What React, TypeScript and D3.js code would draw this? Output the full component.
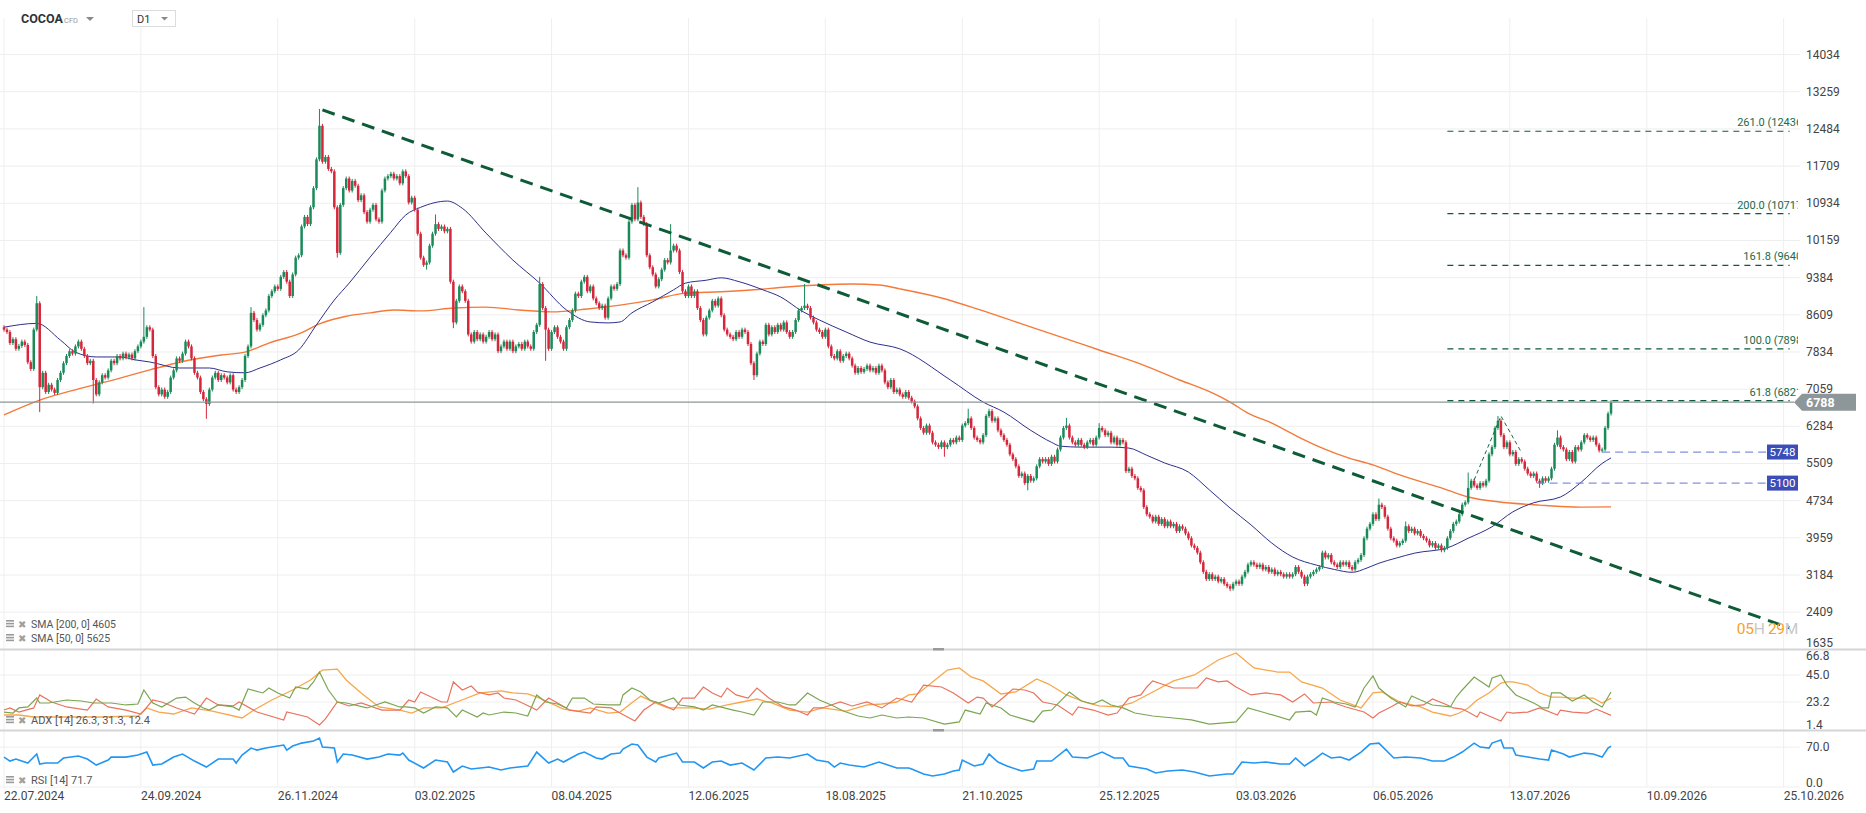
import * as d3 from "d3";
import React from "react";

// ---------- data ----------
const dateLabels = [
  "22.07.2024", "24.09.2024", "26.11.2024", "03.02.2025", "08.04.2025", "12.06.2025", "18.08.2025",
  "21.10.2025", "25.12.2025", "03.03.2026", "06.05.2026", "13.07.2026", "10.09.2026", "25.10.2026",
];
const barsPerDateTick = 46;

const priceTicks = [1635, 2409, 3184, 3959, 4734, 5509, 6284, 7059, 7834, 8609, 9384, 10159, 10934, 11709, 12484, 13259, 14034];
const adxTicks = [66.8, 45.0, 23.2, 1.4];
const rsiTicks = [70.0, 0.0];

const firstOpen = 8350;
// daily closes, one per bar
const closes = [
  8300, 8250, 8020, 8100, 7900, 7960, 8050, 7980, 7620, 7480,
  8300, 8850, 7100, 7400, 7000, 7150, 7050, 6980, 7250, 7400,
  7600, 7750, 7850, 7800, 7950, 8050, 7900, 7750, 7600, 7650,
  7250, 6950, 7200, 7350, 7300, 7450, 7650, 7600, 7750, 7700,
  7800, 7720, 7780, 7700, 7850, 7950, 8050, 8150, 8350, 8300,
  7750, 7100, 6950, 7050, 6900, 7000, 7300, 7450, 7700, 7650,
  7800, 8050, 7950, 7700, 7400, 7300, 7000, 6850, 6750, 7050,
  7300, 7400, 7250, 7350, 7300, 7200, 7350, 7050, 7000, 7100,
  7250, 7750, 7950, 8650, 8500, 8300, 8400, 8600, 8700, 9000,
  9100, 9200, 9150, 9400, 9500, 9300, 9000, 9450, 9800, 9850,
  10450, 10650, 10500, 10850, 11250, 11850, 12550, 11800, 11900, 11650,
  11600, 10850, 9900, 10900, 11250, 11450, 11200, 11400, 11300, 11000,
  11100, 10750, 10550, 10800, 10900, 10600, 10550, 11200, 11450, 11500,
  11550, 11450, 11500, 11350, 11600, 11500, 10950, 11050, 10800, 10300,
  9800, 9650, 9700, 10050, 10300, 10500, 10400, 10450, 10350, 10400,
  9300, 8450, 8900, 9200, 9100, 8900, 8200, 8050, 8250, 8100,
  8200, 8050, 8150, 8250, 8100, 8200, 7850, 7950, 8050, 7900,
  8050, 7850, 7950, 8000, 7900, 8050, 7950, 7900, 8250, 8400,
  9250, 8750, 8300, 7900, 8250, 8350, 8150, 8050, 7900, 8350,
  8500, 8700, 9050, 9000, 9300, 9400, 9100, 9200, 8950, 8850,
  8750, 8800, 8550, 8950, 9200, 9150, 9250, 9950, 9850, 9800,
  10550, 10900, 10600, 10950, 10650, 10500, 9850, 9600, 9450, 9200,
  9350, 9550, 9750, 9700, 9950, 10050, 9950, 9500, 9100, 9000,
  9200, 9000, 9100, 8750, 8500, 8200, 8550, 8700, 8900, 8800,
  8950, 8600, 8300, 8200, 8150, 8100, 8250, 8150, 8300, 8250,
  8000, 7600, 7350, 7800, 8050, 8000, 8400, 8200, 8350, 8250,
  8400, 8300, 8450, 8250, 8150, 8250, 8500, 8700, 8750, 8800,
  8750, 8550, 8450, 8300, 8250, 8150, 8300, 7950, 7750, 7700,
  7850, 7650, 7750, 7800, 7700, 7550, 7400, 7500, 7420, 7480,
  7550, 7450, 7500, 7400, 7550, 7450, 7200, 7100, 7250, 7000,
  7050, 6950, 6900, 7000, 6880, 6800, 6700, 6450, 6250, 6150,
  6300, 6150, 5950, 5900, 5850, 5950, 5850, 5900, 6000, 5950,
  6050, 6000, 6300, 6350, 6450, 6250, 6050, 6000, 5950, 6100,
  6500, 6600, 6400, 6450, 6200, 6100, 6000, 5900, 5700, 5600,
  5450, 5250, 5300, 5100, 5250, 5150, 5200, 5450, 5600, 5550,
  5600, 5500, 5650, 5550, 5800, 6050, 6250, 6300, 6050, 5950,
  5900, 6000, 5900, 5850, 5950, 6000, 5900, 6050, 6250, 6200,
  6100, 6150, 5950, 6050, 5900, 6000, 5950, 5350, 5400, 5250,
  5200, 5000, 4950, 4600, 4450, 4400, 4300, 4400, 4250, 4350,
  4200, 4300, 4200, 4250, 4100, 4200, 4150, 4050, 3950, 3800,
  3750, 3650, 3450, 3250, 3100, 3200, 3100, 3150, 3050, 3100,
  3000, 2950, 2900, 3000, 3050, 3000, 3150, 3250, 3400, 3450,
  3400, 3350, 3400, 3300, 3350, 3250, 3300, 3200, 3250, 3200,
  3150, 3200, 3150, 3200, 3350, 3250, 3150, 3000, 3150, 3200,
  3250, 3300, 3350, 3650, 3550, 3600, 3450, 3400, 3350, 3450,
  3400, 3450, 3350, 3300, 3450, 3500, 3600, 3950, 4150, 4250,
  4450, 4350, 4650, 4600, 4400, 4150, 3950, 3900, 3800, 3850,
  3900, 4200, 4100, 4150, 4050, 4100, 4000, 3950, 3900, 3800,
  3850, 3750, 3800, 3700, 3750, 3950, 4100, 4250, 4300, 4450,
  4650, 4700, 5000, 5150, 5050, 5000, 5100, 5050, 5150, 5700,
  5850, 6250, 6400, 6100, 5850, 5950, 5700, 5750, 5500, 5600,
  5550, 5400, 5300, 5250, 5300, 5150, 5100, 5200, 5150, 5200,
  5400, 5900, 6050, 5850, 5800, 5600, 5750, 5550, 5850, 5800,
  5950, 6100, 6050, 6000, 6050, 5900, 5780, 5800, 6250, 6550, 6788,
];

// long wicks visible on the chart: [bar, price]
const wickHighs: [number, number][] = [
  [11, 9000], [47, 8770], [83, 8770], [106, 12900], [145, 10700], [180, 9400], [213, 11270],
  [224, 10500], [269, 9250], [324, 6650], [331, 6650], [357, 6460], [368, 6350], [462, 4780],
  [471, 4300], [492, 5320], [502, 6500], [522, 6200],
];
const wickLows: [number, number][] = [
  [12, 6580], [30, 6760], [68, 6440], [112, 9800], [142, 9550], [151, 8330], [182, 7650],
  [252, 7250], [316, 5650], [344, 4950], [412, 2850], [437, 2950], [516, 5000],
];

// moving averages: [bar, value]
const sma50: [number, number][] = [
  [0, 8350], [11, 8430], [19, 8080], [24, 7830], [31, 7730], [39, 7730], [44, 7670], [49, 7625],
  [59, 7500], [69, 7500], [75, 7420], [81, 7400], [86, 7500], [93, 7670], [99, 7875], [105, 8400],
  [111, 8917], [116, 9270], [123, 9810], [130, 10330], [135, 10690], [140, 10850], [149, 10980],
  [154, 10830], [162, 10310], [171, 9750], [180, 9270], [189, 8710], [197, 8460], [203, 8440],
  [207, 8460], [211, 8650], [218, 8880], [225, 9130], [229, 9270], [236, 9330], [241, 9380],
  [247, 9300], [255, 9130], [261, 8980], [268, 8690], [274, 8500], [283, 8250], [291, 8040],
  [301, 7900], [318, 7250], [329, 6790], [336, 6580], [345, 6200], [352, 5950], [355, 5870],
  [362, 5850], [372, 5850], [378, 5830], [384, 5680], [390, 5520], [398, 5330], [405, 4960],
  [412, 4580], [419, 4230], [426, 3850], [433, 3560], [441, 3390], [447, 3300], [453, 3240],
  [458, 3330], [462, 3430], [468, 3540], [474, 3640], [485, 3750], [492, 3950], [500, 4190],
  [507, 4500], [514, 4690], [523, 4810], [530, 5120], [537, 5510], [540, 5625],
];
const sma200: [number, number][] = [
  [0, 6520], [12, 6830], [26, 7080], [39, 7290], [49, 7460], [59, 7620], [73, 7770], [81, 7830],
  [89, 8020], [99, 8210], [106, 8420], [115, 8580], [123, 8650], [131, 8710], [140, 8690],
  [151, 8750], [162, 8770], [173, 8710], [184, 8670], [196, 8730], [207, 8810], [218, 8920],
  [229, 9060], [241, 9090], [252, 9130], [263, 9190], [274, 9230], [285, 9250], [294, 9230],
  [301, 9150], [315, 8960], [328, 8710], [341, 8440], [355, 8150], [368, 7875], [382, 7580],
  [395, 7250], [406, 6980], [412, 6790], [418, 6560], [426, 6350], [435, 6060], [443, 5830],
  [452, 5620], [460, 5480], [469, 5270], [483, 5000], [492, 4810], [502, 4710], [516, 4640],
  [530, 4600], [540, 4605],
];

// ADX(14): adx, +DI, -DI  [bar, value]
const adxMain: [number, number][] = [
  [0, 12.7], [5, 12.7], [10, 11.1], [21, 11.1], [32, 11.1], [45, 11.9], [48, 18.4], [52, 15.1],
  [57, 13.5], [63, 18.4], [70, 15.9], [80, 10.3], [84, 16.7], [90, 24.8], [97, 32.9], [103, 41],
  [107, 49], [112, 49.8], [115, 41], [120, 30.5], [126, 19.2], [133, 16.7], [137, 14.3], [141, 18.4],
  [147, 18.4], [153, 24], [160, 30.5], [167, 32.1], [171, 30.5], [176, 29.7], [180, 26.4], [188, 17.5],
  [193, 15.9], [197, 18.4], [203, 14.3], [207, 15.1], [210, 20.8], [214, 28], [218, 23.2], [223, 18.4],
  [231, 18.4], [237, 17.5], [243, 20.8], [248, 23.2], [253, 25.6], [258, 22.4], [264, 16.7], [270, 15.1],
  [275, 18.4], [283, 15.9], [290, 20.8], [295, 21.6], [300, 23.2], [304, 28.9], [307, 29.7], [312, 39.4],
  [317, 49], [321, 50.7], [325, 43.4], [329, 40.2], [335, 29.7], [340, 31.3], [347, 41.8], [351, 37.7],
  [357, 28.9], [364, 22.4], [368, 20], [374, 19.2], [379, 22.4], [386, 31.3], [393, 40.2], [400, 45],
  [408, 57.1], [414, 62.8], [420, 50.7], [428, 47.4], [432, 47.4], [436, 39.4], [443, 34.5], [449, 24.8],
  [456, 18.4], [460, 30.5], [463, 31.3], [469, 23.2], [476, 19.2], [480, 15.1], [486, 11.9], [489, 14.3],
  [492, 18.4], [495, 24.8], [499, 30.5], [503, 38.5], [505, 39.4], [507, 39.4], [512, 36.9], [516, 30.5],
  [520, 27.2], [523, 27.2], [527, 26.4], [534, 26.4], [537, 22.4], [540, 26.3],
];
const adxPlus: [number, number][] = [
  [0, 15.1], [3, 14.3], [5, 18.4], [8, 19.2], [11, 26.4], [12, 22.4], [15, 22.4], [21, 24.8], [26, 24],
  [30, 22.4], [36, 22.4], [41, 20.8], [45, 21.6], [47, 32.9], [50, 22.4], [53, 19.2], [58, 26.4],
  [61, 27.2], [64, 22.4], [67, 18.4], [69, 16.7], [72, 20.8], [77, 19.2], [79, 16.7], [82, 33.7],
  [87, 30.5], [89, 34.5], [92, 30.5], [96, 26.4], [98, 35.3], [102, 33.7], [104, 39.4], [106, 47.4],
  [109, 32.9], [112, 23.2], [115, 22.4], [122, 18.4], [128, 23.2], [133, 19.2], [135, 19.2], [138, 18.4],
  [141, 14.3], [145, 19.2], [149, 18.4], [152, 11.1], [154, 16.7], [159, 11.1], [161, 14.3], [163, 12.7],
  [168, 15.1], [172, 14.3], [176, 11.9], [179, 28.9], [182, 23.2], [186, 21.6], [189, 18.4], [191, 26.4],
  [195, 26.4], [198, 21.6], [203, 20.8], [207, 20.8], [208, 28.9], [211, 34.5], [214, 31.3], [217, 24.8],
  [220, 22.4], [225, 26.4], [227, 20.8], [232, 19.2], [235, 16.7], [238, 20.8], [242, 18.4], [245, 16.7],
  [248, 15.1], [252, 12.7], [255, 23.2], [260, 23.2], [264, 20.8], [266, 20.8], [270, 30.5], [274, 24.8],
  [278, 20.8], [282, 15.9], [287, 11.9], [291, 10.3], [295, 12.7], [300, 10.3], [304, 11.1], [309, 10.3],
  [316, 5.4], [321, 7.1], [323, 16.7], [328, 13.5], [330, 22.4], [335, 18.4], [338, 12.7], [346, 7.1],
  [349, 15.9], [352, 16.7], [358, 31.3], [362, 24], [366, 21.6], [369, 24.8], [372, 20.8], [376, 18.4],
  [380, 14.3], [386, 11.9], [393, 10.3], [399, 8.7], [405, 5.4], [414, 7.1], [418, 18.4], [424, 14.3],
  [432, 8.7], [434, 15.1], [439, 15.9], [441, 12.7], [443, 26.4], [447, 23.2], [451, 21.6], [454, 19.2],
  [457, 34.5], [460, 44.2], [462, 34.5], [466, 26.4], [471, 19.2], [473, 28], [476, 24.8], [480, 20.8],
  [486, 19.2], [488, 27.2], [490, 32.9], [494, 43.4], [497, 38.5], [499, 35.3], [500, 42.6], [503, 45],
  [505, 36.9], [508, 28.9], [514, 22.4], [517, 18.4], [519, 18.4], [520, 30.5], [523, 30.5], [527, 24],
  [531, 28.9], [534, 23.2], [537, 19.2], [539, 27.2], [540, 31.3],
];
const adxMinus: [number, number][] = [
  [0, 16.7], [2, 18.4], [5, 15.1], [10, 18.4], [12, 28.9], [16, 23.2], [21, 19.2], [28, 16.7], [31, 25.6],
  [35, 19.2], [41, 16.7], [46, 13.5], [50, 24.8], [53, 23.2], [58, 18.4], [64, 13.5], [68, 26.4],
  [72, 20.8], [77, 20], [79, 23.2], [85, 15.1], [94, 8.7], [95, 15.1], [102, 11.1], [106, 4.6], [108, 9.5],
  [112, 23.2], [116, 20], [120, 22.4], [127, 16.7], [133, 16.7], [136, 24.8], [138, 23.2], [140, 31.3],
  [147, 23.2], [149, 23.2], [151, 39.4], [154, 32.9], [157, 36.1], [159, 31.3], [163, 28.9], [166, 30.5],
  [168, 26.4], [172, 24.8], [177, 19.2], [179, 16.7], [183, 26.4], [186, 22.4], [190, 16.7], [197, 14.3],
  [199, 19.2], [204, 18.4], [207, 14.3], [212, 7.9], [215, 16.7], [219, 23.2], [223, 19.2], [225, 16.7],
  [228, 26.4], [232, 26.4], [235, 35.3], [238, 30.5], [241, 27.2], [243, 34.5], [246, 28.9], [250, 26.4],
  [253, 34.5], [257, 26.4], [262, 19.2], [266, 16.7], [270, 12.7], [272, 18.4], [275, 18.4], [281, 23.2],
  [285, 20], [290, 23.2], [295, 18.4], [300, 26.4], [305, 23.2], [309, 36.9], [315, 35.3], [319, 30.5],
  [324, 22.4], [327, 27.2], [329, 26.4], [332, 19.2], [336, 27.2], [339, 33.7], [343, 32.9], [346, 30.5],
  [349, 23.2], [354, 20.8], [359, 12.7], [361, 19.2], [366, 16.7], [371, 12.7], [374, 14.3], [378, 26.4],
  [382, 28.9], [384, 35.3], [386, 40.2], [390, 36.9], [393, 34.5], [398, 34.5], [401, 34.5], [404, 42.6],
  [408, 39.4], [411, 40.2], [414, 35.3], [419, 28.9], [424, 30.5], [429, 28.9], [433, 23.2], [437, 29.7],
  [440, 22.4], [446, 23.2], [451, 19.2], [457, 15.1], [460, 10.3], [462, 14.3], [466, 19.2], [469, 23.2],
  [473, 20], [477, 20.8], [480, 25.6], [485, 20.8], [487, 18.4], [490, 17.5], [492, 15.1], [495, 11.1],
  [496, 15.1], [499, 11.9], [503, 7.9], [505, 15.1], [507, 14.3], [512, 15.1], [516, 18.4], [522, 12.7],
  [523, 16.7], [527, 15.1], [532, 14.3], [535, 17.5], [540, 12.4],
];

// RSI(14) [bar, value]
const rsi: [number, number][] = [
  [0, 52.5], [2, 45.5], [4, 49], [8, 42], [11, 57.8], [12, 40.3], [14, 42], [18, 42], [20, 50.8],
  [25, 54.3], [28, 49], [31, 38.5], [35, 47.3], [36, 52.5], [41, 52.5], [45, 56], [48, 61.3], [50, 38.5],
  [53, 40.3], [57, 52.5], [60, 57.8], [64, 45.5], [68, 35], [72, 49], [77, 49], [78, 42], [80, 56],
  [83, 68.3], [85, 64.8], [88, 68.3], [92, 71.8], [94, 73.6], [95, 64.8], [97, 71.8], [100, 77],
  [104, 80.6], [106, 85.8], [107, 70], [111, 68.3], [112, 43.8], [114, 57.8], [117, 56], [122, 49],
  [126, 52.5], [129, 57.8], [133, 56], [134, 59.5], [136, 47.3], [141, 33.3], [145, 47.3], [149, 43.8],
  [151, 26.3], [154, 36.8], [157, 31.5], [163, 35], [167, 29.8], [170, 33.3], [176, 36.8], [179, 61.3],
  [183, 42], [186, 49], [188, 43.8], [193, 57.8], [195, 61.3], [199, 50.8], [201, 49], [204, 57.8],
  [207, 59.5], [208, 66.5], [211, 75.3], [213, 73.6], [216, 52.5], [219, 43.8], [220, 50.8], [226, 59.5],
  [228, 43.8], [232, 43.8], [235, 33.3], [238, 43.8], [241, 45.5], [244, 38.5], [248, 42], [252, 29.8],
  [256, 50.8], [260, 52.5], [264, 50.8], [270, 57.8], [273, 47.3], [277, 43.8], [279, 35], [281, 42],
  [284, 38.5], [289, 35], [294, 43.8], [300, 33.3], [304, 33.3], [305, 31.5], [309, 22.8], [312, 19.3],
  [316, 22.8], [319, 28], [321, 29.8], [322, 47.3], [326, 36.8], [329, 40.3], [331, 57.8], [334, 43.8],
  [337, 36.8], [342, 28], [346, 31.5], [347, 45.5], [352, 45.5], [357, 66.5], [359, 52.5], [364, 50.8],
  [369, 61.3], [373, 50.8], [376, 50.8], [378, 36.8], [384, 31.5], [387, 24.5], [391, 28], [396, 29.8],
  [400, 26.3], [405, 19.3], [411, 22.8], [413, 22.8], [416, 43.8], [420, 42], [424, 43.8], [429, 40.3],
  [432, 40.3], [434, 50.8], [437, 36.8], [440, 47.3], [443, 59.5], [446, 50.8], [449, 52.5], [452, 47.3],
  [456, 61.3], [459, 75.3], [462, 77], [467, 50.8], [471, 52.5], [476, 50.8], [480, 45.5], [484, 45.5],
  [487, 52.5], [490, 61.3], [494, 77], [496, 70], [499, 68.3], [500, 77], [503, 82.3], [504, 68.3],
  [507, 68.3], [508, 56], [512, 52.5], [516, 49], [519, 47.3], [520, 64.8], [524, 57.8], [526, 52.5],
  [531, 59.5], [534, 57.8], [537, 52.5], [539, 68.3], [540, 71.7],
];

// drawings
const trendLine: [number, number][] = [[107, 12880], [600, 2080]];
const fibRatios = ["261.0", "200.0", "161.8", "100.0", "61.8"];
const fibValues = [12436, 10717, 9640, 7898, 6821];
const fibFromBar = 485;
const fibToBar = 600;
const fibAnchors: [number, number][] = [[494, 5165], [503, 6500], [510, 5727]];
const levelValues = [5748, 5100];
const levelFromBars = [537, 515];
const lastPrice = 6788;

// ---------- layout ----------
const W = 1866;
const H = 813;
const FONT = "Roboto, 'Noto Sans', sans-serif";
const gridRight = 1800;
const axisX = 1806;
const mainBottom = 649.3;
const adxTop = 649;
const adxBottom = 730;
const rsiBottom = 787;

const x = d3.scaleLinear().domain([0, 598]).range([4, 4 + 598 * 2.976]);
const y = d3.scaleLinear().domain([1635, 14034]).range([mainBottom, 54.6]);
const yAdx = d3.scaleLinear().domain([1.4, 66.8]).range([729, 648]);
const yRsi = d3.scaleLinear().domain([0, 100]).range([rsiBottom, adxBottom]);

const UP = "#1b8a59";
const DOWN = "#d6263b";

const clamp = (v: number, lo: number, hi: number) => Math.max(lo, Math.min(hi, v));

const LegendIcons: React.FC<{ cy: number }> = ({ cy }) => (
  <g>
    <rect x={6} y={cy - 4} width={8} height={1.6} fill="#9a9a9a" />
    <rect x={6} y={cy - 1.2} width={8} height={1.6} fill="#9a9a9a" />
    <rect x={6} y={cy + 1.6} width={8} height={1.6} fill="#9a9a9a" />
    <text x={18} y={cy + 3.5} fontSize={10} fill="#a0a0a0" fontFamily="DejaVu Sans">✖</text>
  </g>
);

const App: React.FC = () => {
  const hiMap = new Map(wickHighs);
  const loMap = new Map(wickLows);

  const candles = closes.map((c, i) => {
    const o = i === 0 ? firstOpen : closes[i - 1];
    const top = Math.max(o, c);
    const bot = Math.min(o, c);
    const hi = hiMap.get(i);
    const lo = loMap.get(i);
    return {
      i,
      up: c >= o,
      yTop: y(top),
      yBot: y(bot),
      wTop: hi !== undefined ? y(hi) : y(top) - 2,
      wBot: lo !== undefined ? y(lo) : y(bot) + 2,
    };
  });

  const priceLine = d3
    .line<[number, number]>()
    .x((d) => x(d[0]))
    .y((d) => y(d[1]))
    .curve(d3.curveMonotoneX);
  const adxLine = d3
    .line<[number, number]>()
    .x((d) => x(d[0]))
    .y((d) => yAdx(d[1]));
  const rsiLine = d3
    .line<[number, number]>()
    .x((d) => x(d[0]))
    .y((d) => yRsi(d[1]));

  const dateXs = dateLabels.map((_, k) => x(k * barsPerDateTick));
  const lastY = y(lastPrice);

  return (
    <svg
      width={W}
      height={H}
      viewBox={`0 0 ${W} ${H}`}
      style={{ position: "absolute", left: 0, top: 0, background: "#fff" }}
      fontFamily={FONT}
    >
      <defs>
        <clipPath id="fibClip">
          <rect x={0} y={0} width={1798} height={mainBottom} />
        </clipPath>
        <clipPath id="mainClip">
          <rect x={0} y={0} width={gridRight} height={mainBottom} />
        </clipPath>
      </defs>
      <rect width={W} height={H} fill="#fff" />

      {/* grid */}
      {dateXs.map((gx, k) => (
        <line key={`vg${k}`} x1={gx} x2={gx} y1={18} y2={rsiBottom} stroke="#efefef" />
      ))}
      {priceTicks.map((t) => (
        <line key={`hg${t}`} x1={0} x2={gridRight} y1={y(t)} y2={y(t)} stroke="#eeeeee" />
      ))}
      {[45.0, 23.2].map((t) => (
        <line key={`ag${t}`} x1={0} x2={gridRight} y1={yAdx(t)} y2={yAdx(t)} stroke="#eeeeee" />
      ))}
      {rsiTicks.map((t) => (
        <line key={`rg${t}`} x1={0} x2={gridRight} y1={yRsi(t)} y2={yRsi(t)} stroke="#eeeeee" />
      ))}

      {/* header */}
      <text x={21} y={23} fontSize={12.5} fontWeight="bold" fill="#2d3338">COCOA</text>
      <text x={64} y={23} fontSize={7.5} fill="#9a9a9a">CFD</text>
      <path d="M86,17 L94,17 L90,21 Z" fill="#8a8a8a" />
      <rect x={132.5} y={10.5} width={43} height={16} fill="#fff" stroke="#dcdcdc" />
      <text x={137} y={22.5} fontSize={11} fill="#333">D1</text>
      <path d="M161,17 L168,17 L164.5,20.5 Z" fill="#8a8a8a" />

      <g clipPath="url(#mainClip)">
        {/* moving averages */}
        <path d={priceLine(sma200) ?? ""} fill="none" stroke="#f47a3a" strokeWidth={1.4} />
        <path d={priceLine(sma50) ?? ""} fill="none" stroke="#2c2f8c" strokeWidth={1} />

        {/* candles */}
        {candles.map((c) => (
          <g key={c.i} fill={c.up ? UP : DOWN} stroke={c.up ? UP : DOWN}>
            <line x1={x(c.i)} x2={x(c.i)} y1={c.wTop} y2={c.wBot} strokeWidth={1} />
            <rect
              x={x(c.i) - 1.25}
              y={c.yTop}
              width={2.5}
              height={Math.max(1.2, c.yBot - c.yTop)}
              stroke="none"
            />
          </g>
        ))}

        {/* trend line */}
        <path
          d={`M${x(trendLine[0][0])},${y(trendLine[0][1])}L${x(trendLine[1][0])},${y(trendLine[1][1])}`}
          stroke="#0e5b38"
          strokeWidth={3}
          strokeDasharray="13,8"
          fill="none"
        />

        {/* fib zigzag */}
        <path
          d={d3.line<[number, number]>().x((d) => x(d[0])).y((d) => y(d[1]))(fibAnchors) ?? ""}
          stroke="#1a6a48"
          strokeWidth={1}
          strokeDasharray="4,3"
          fill="none"
        />
      </g>

      {/* last price line */}
      <line x1={0} x2={1794} y1={lastY} y2={lastY} stroke="#8d9699" strokeWidth={1.2} />

      {/* fib levels */}
      <g clipPath="url(#fibClip)">
        {fibValues.map((v, k) => (
          <g key={`fib${k}`}>
            <line
              x1={x(fibFromBar)}
              x2={x(fibToBar)}
              y1={y(v)}
              y2={y(v)}
              stroke="#0e5b38"
              strokeWidth={1.2}
              strokeDasharray="6,5"
            />
            <text x={1806} y={y(v) - 5} textAnchor="end" fontSize={11} fill="#1a6a48">
              {`${fibRatios[k]} (${v})`}
            </text>
          </g>
        ))}
      </g>

      {/* horizontal levels */}
      {levelValues.map((v, k) => (
        <g key={`lv${k}`}>
          <line
            x1={x(levelFromBars[k])}
            x2={1767}
            y1={y(v)}
            y2={y(v)}
            stroke="#6f7fd6"
            strokeOpacity={0.85}
            strokeWidth={1.3}
            strokeDasharray="8,5"
          />
          <rect x={1767} y={y(v) - 7.5} width={31} height={15} fill="#3d4db7" />
          <text x={1782.5} y={y(v) + 4} textAnchor="middle" fontSize={11.5} fill="#fff">{v}</text>
        </g>
      ))}

      {/* countdown */}
      <text x={1798} y={634} textAnchor="end" fontSize={15.5} letterSpacing={-0.3}>
        <tspan fill="#f5a326">05</tspan>
        <tspan fill="#c8c8c8">H </tspan>
        <tspan fill="#f5a326">29</tspan>
        <tspan fill="#c8c8c8">M</tspan>
      </text>

      {/* price axis */}
      {priceTicks.map((t) => (
        <text
          key={`pl${t}`}
          x={axisX}
          y={clamp(y(t), 0, mainBottom - 6)}
          dominantBaseline="central"
          fontSize={12}
          fill="#444"
        >
          {t}
        </text>
      ))}
      <path
        d={`M1794,${lastY} L1802,${lastY - 8.5} L1856,${lastY - 8.5} L1856,${lastY + 8.5} L1802,${lastY + 8.5} Z`}
        fill="#8d9699"
      />
      <text x={1806} y={lastY} dominantBaseline="central" fontSize={12.5} fontWeight="bold" fill="#fff">
        {lastPrice}
      </text>

      {/* SMA legend */}
      <LegendIcons cy={624} />
      <text x={31} y={627.5} fontSize={10.5} fill="#555">SMA [200, 0] 4605</text>
      <LegendIcons cy={638} />
      <text x={31} y={641.5} fontSize={10.5} fill="#555">SMA [50, 0] 5625</text>

      {/* panel separators */}
      <line x1={0} x2={W} y1={adxTop + 0.5} y2={adxTop + 0.5} stroke="#d5d5d5" strokeWidth={2} />
      <line x1={0} x2={W} y1={adxBottom + 0.5} y2={adxBottom + 0.5} stroke="#d5d5d5" strokeWidth={2} />
      <rect x={933} y={adxTop - 1} width={11} height={2.5} fill="#9a9a9a" />
      <rect x={933} y={adxBottom - 1} width={11} height={2.5} fill="#9a9a9a" />

      {/* ADX panel */}
      <path d={adxLine(adxMain) ?? ""} fill="none" stroke="#f8a64a" strokeWidth={1.3} />
      <path d={adxLine(adxMinus) ?? ""} fill="none" stroke="#e9735e" strokeWidth={1.2} />
      <path d={adxLine(adxPlus) ?? ""} fill="none" stroke="#7ba552" strokeWidth={1.2} />
      {adxTicks.map((t) => (
        <text
          key={`al${t}`}
          x={axisX}
          y={clamp(yAdx(t), adxTop + 7, adxBottom - 5)}
          dominantBaseline="central"
          fontSize={12}
          fill="#444"
        >
          {t.toFixed(1)}
        </text>
      ))}
      <LegendIcons cy={720} />
      <text x={31} y={724} fontSize={11} fill="#555">ADX [14] 26.3, 31.3, 12.4</text>

      {/* RSI panel */}
      <path d={rsiLine(rsi) ?? ""} fill="none" stroke="#2196f3" strokeWidth={1.6} />
      {rsiTicks.map((t) => (
        <text
          key={`rl${t}`}
          x={axisX}
          y={clamp(yRsi(t), adxBottom + 7, rsiBottom - 4)}
          dominantBaseline="central"
          fontSize={12}
          fill="#444"
        >
          {t.toFixed(1)}
        </text>
      ))}
      <LegendIcons cy={780} />
      <text x={31} y={784} fontSize={11} fill="#555">RSI [14] 71.7</text>

      {/* date axis */}
      {dateLabels.map((d, k) => (
        <text key={d} x={dateXs[k]} y={799.5} fontSize={12} fill="#444">
          {d}
        </text>
      ))}
    </svg>
  );
};

export default App;
